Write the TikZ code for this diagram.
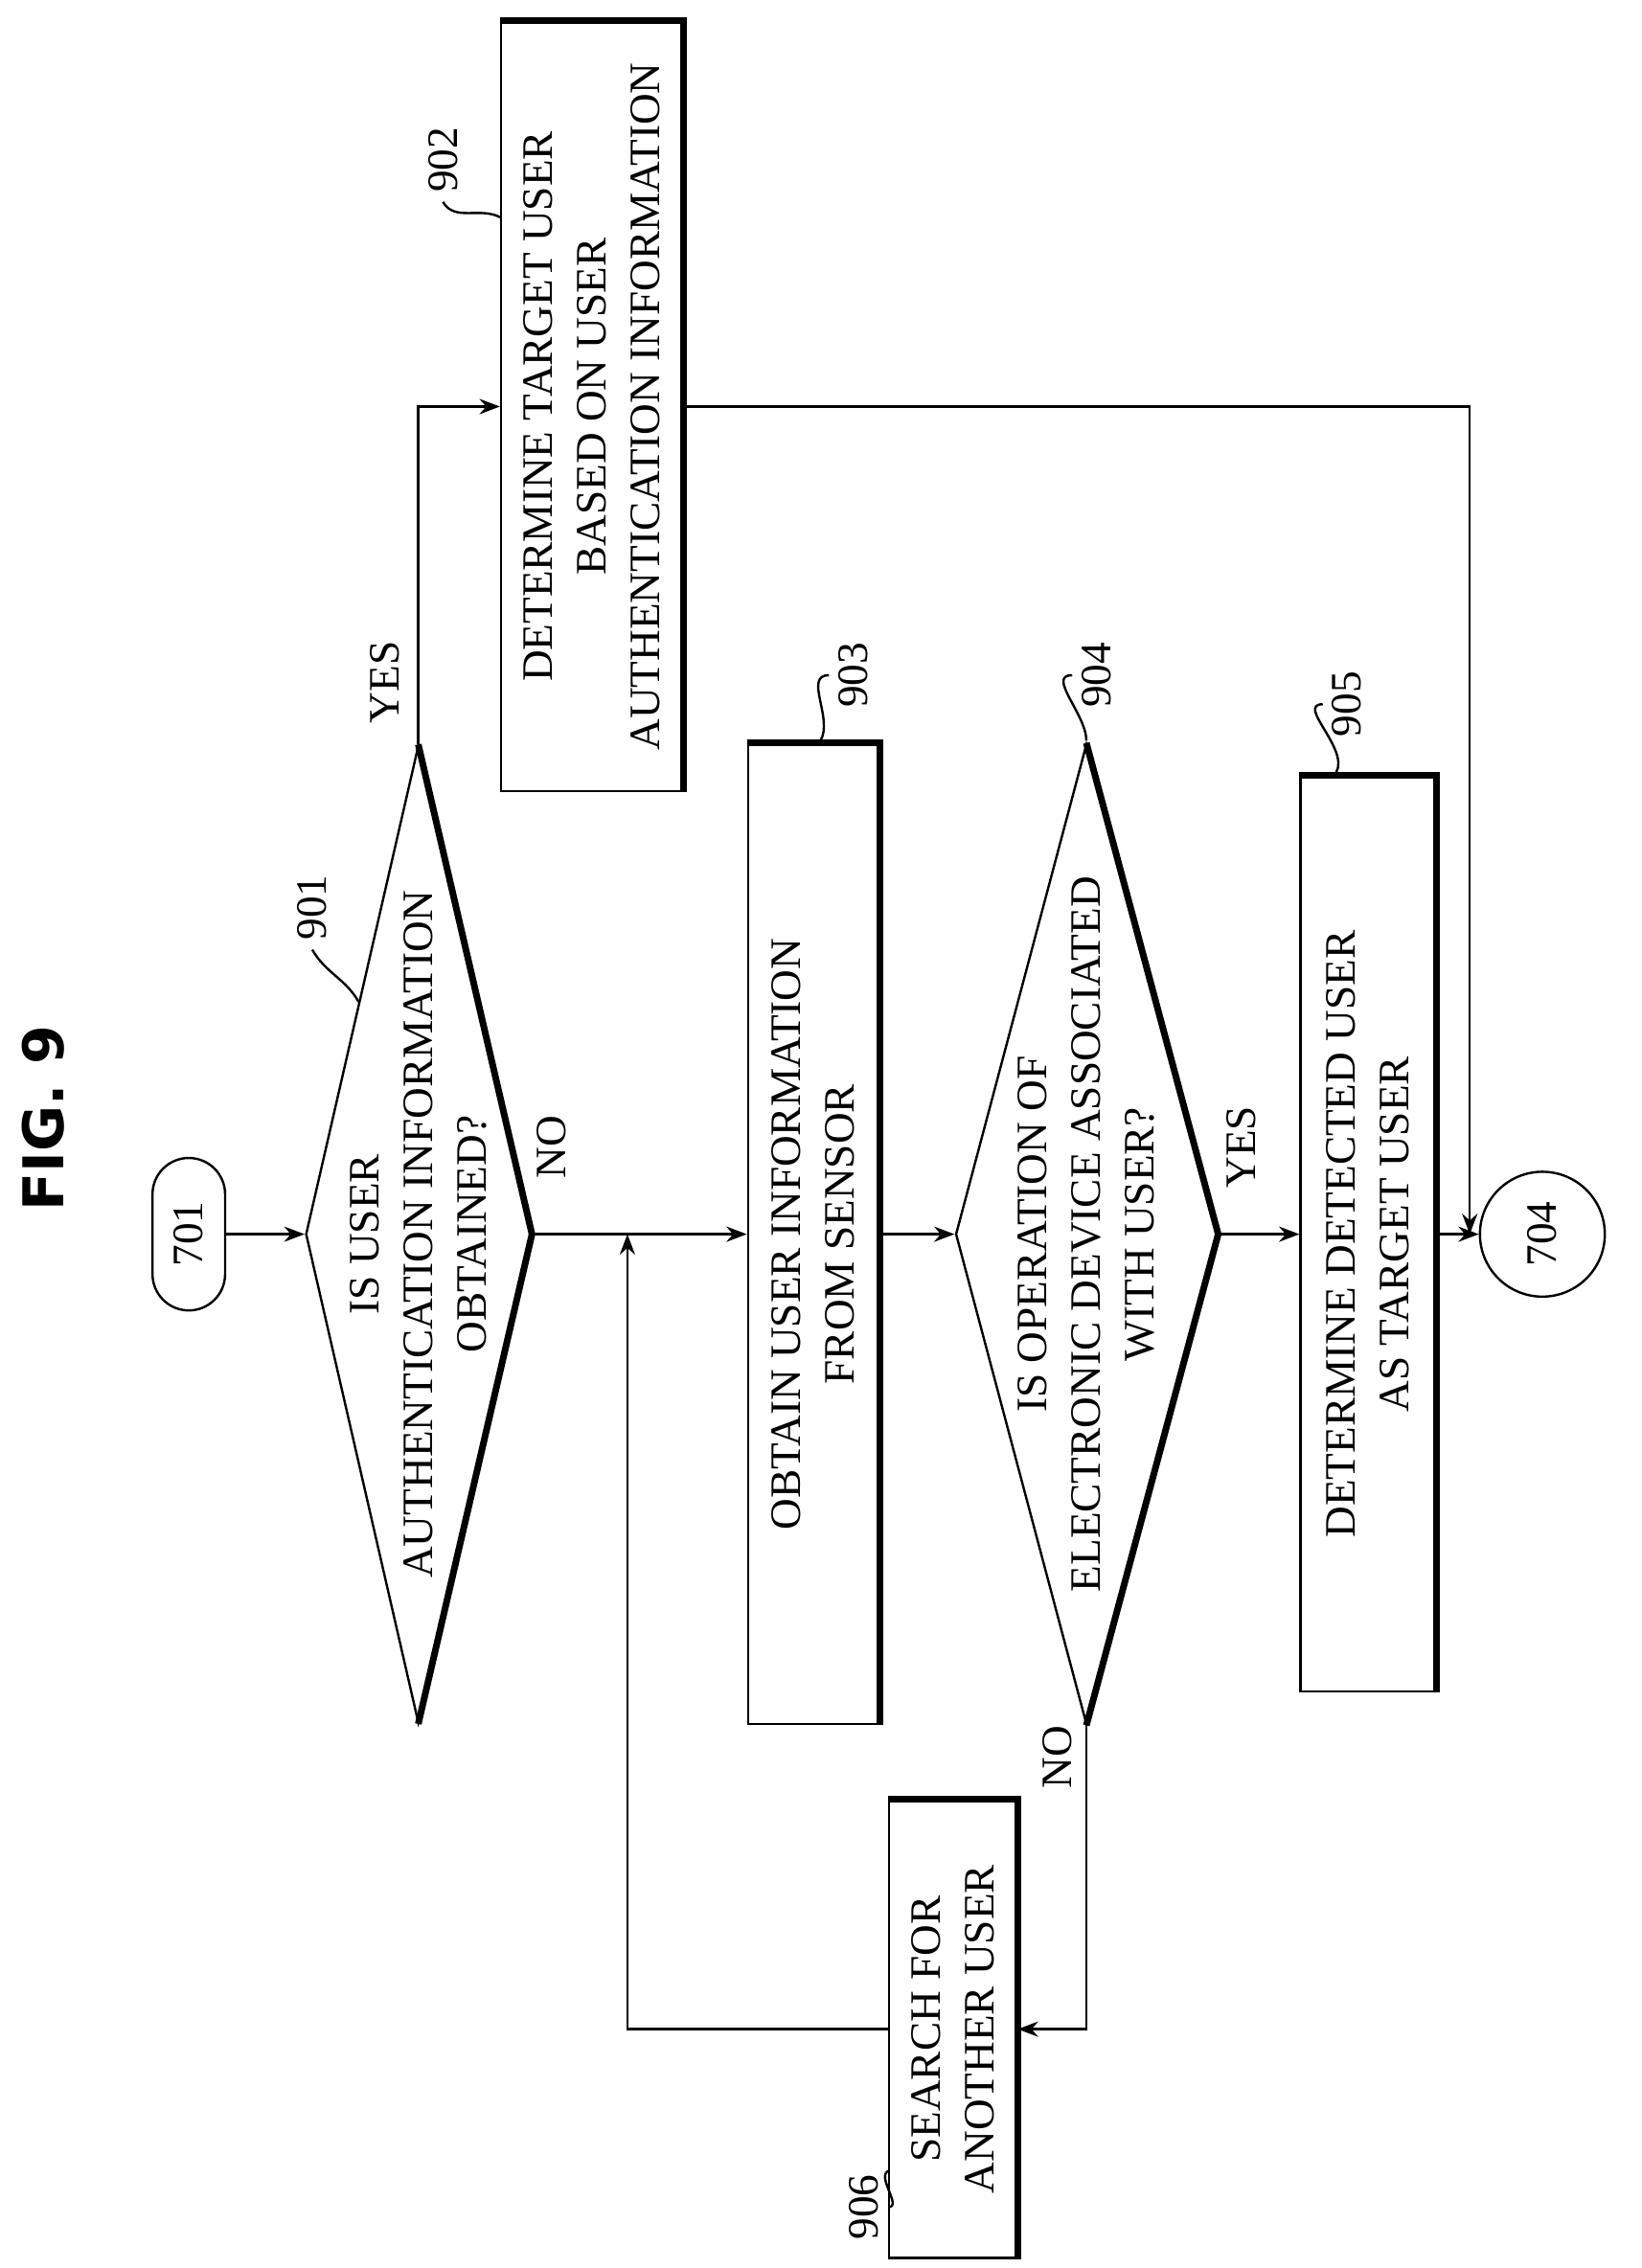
\documentclass[tikz,border=0pt]{standalone}
\usepackage{fontspec}
\setmainfont{Liberation Serif}
\newfontfamily\figfont{DejaVu Sans}
\usetikzlibrary{shapes.geometric,arrows.meta,positioning}

\begin{document}
\begin{tikzpicture}[line width=0.9pt,>={Stealth[length=8pt,width=6pt]}]
	\tikzset{box/.style={draw,rotate=90,minimum width=#1,inner sep=2pt,align=center,font=\fontsize{17}{21}\selectfont}}
	\tikzset{dia/.style={draw,diamond,rotate=90,inner sep=0pt}}
	\tikzset{txt/.style={rotate=90,align=center,font=\fontsize{17}{21}\selectfont}}
	\tikzset{shade/.style={line width=2.6pt}}
	\useasboundingbox (0,0) rectangle (22.6,-31.24);

	\node[rotate=90,font=\figfont\bfseries\fontsize{22}{26}\selectfont] (fig) at (0.6,-15.4) {FIG. 9};

	%% Boxes and decisions
	\node[box=2.1cm,minimum height=1.0cm,rounded corners=0.5cm] (n701) at (2.6,-17) {701};
	\node[dia,minimum width=13.46cm,minimum height=3.1cm] (d901) at (5.76,-17) {};
	\node[txt] (t901) at (5.76,-17) {IS USER\\AUTHENTICATION INFORMATION\\OBTAINED?};
	\node[box=10.6cm,minimum height=2.5cm] (n902) at (8.15,-5.6) {DETERMINE TARGET USER\\BASED ON USER\\AUTHENTICATION INFORMATION};
	\node[box=13.5cm,minimum height=1.8cm] (n903) at (11.2,-17) {OBTAIN USER INFORMATION\\FROM SENSOR};
	\node[dia,minimum width=13.5cm,minimum height=3.6cm] (d904) at (14.96,-17) {};
	\node[txt] (t904) at (14.96,-17) {IS OPERATION OF\\ELECTRONIC DEVICE ASSOCIATED\\WITH USER?};
	\node[box=12.6cm,minimum height=1.86cm] (n905) at (18.84,-17) {DETERMINE DETECTED USER\\AS TARGET USER};
	\node[draw,circle,rotate=90,minimum size=1.72cm,inner sep=0pt,font=\fontsize{17}{21}\selectfont] (n704) at (21.24,-17) {704};
	\node[box=6.3cm,minimum height=1.76cm] (n906) at (13.12,-27.95) {SEARCH FOR\\ANOTHER USER};

	%% Shadow edges
	\draw[shade] (d901.east) -- (d901.south) -- (d901.west);
	\draw[shade] (d904.east) -- (d904.south) -- (d904.west);
	\foreach \n in {n902,n903,n905,n906}
		\draw[shade] (\n.north east) -- (\n.south east) -- (\n.south west);

	%% Connectors
	\coordinate (jn) at (8.64,-17);
	\coordinate (j704) at (20.24,-17);
	\draw[->] (n701) -- (d901);
	\draw[->] (d901) -- (n903);
	\draw[->] (d901.east) |- (n902.north);
	\draw[->] (n902.south) -| (j704);
	\draw[->] (n903) -- (d904);
	\draw[->] (d904) -- (n905);
	\draw[->] (n905) -- (n704);
	\draw[->] (d904.west) |- (n906.south);
	\draw[->] (n906.north) -| (jn);

	%% Branch labels
	\node[txt] (yes901) at (5.3,-9.4) {YES};
	\node[txt] (no901) at (7.6,-15.8) {NO};
	\node[txt] (yes904) at (17.1,-15.8) {YES};
	\node[txt] (no904) at (14.56,-24.2) {NO};

	%% Reference numbers
	\node[txt] (l901) at (4.3,-12.5) {901};
	\node[txt] (l902) at (6.1,-2.2) {902};
	\node[txt] (l903) at (11.75,-9.3) {903};
	\node[txt] (l904) at (15.1,-9.3) {904};
	\node[txt] (l905) at (18.55,-9.7) {905};
	\node[txt] (l906) at (11.9,-30.4) {906};
	\coordinate (p901) at (4.94,-13.8);
	\coordinate (p902) at (6.9,-3.0);
	\coordinate (p903) at (11.3,-10.2);
	\coordinate (p904) at (14.96,-10.2);
	\coordinate (p905) at (18.4,-10.64);
	\coordinate (p906) at (12.24,-29.9);
	\draw (l901.west) to[out=-60,in=120] (p901);
	\draw (l902.west) to[out=-60,in=150] (p902);
	\draw (l903.north) to[out=180,in=60] (p903);
	\draw (l904.north) to[out=180,in=90] (p904);
	\draw (l905.north) to[out=180,in=60] (p905);
	\draw (l906.south) to[out=0,in=200] (p906);
\end{tikzpicture}
\end{document}
